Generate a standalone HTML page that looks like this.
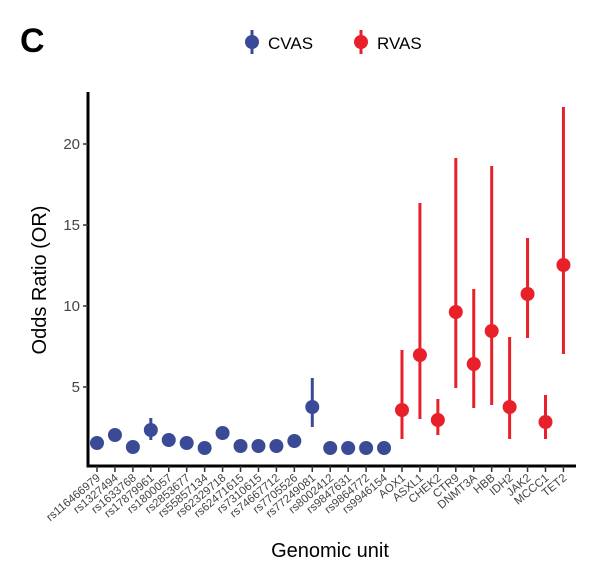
<!DOCTYPE html>
<html><head><style>body{margin:0;background:#fff}</style></head><body>
<svg width="600" height="577" xmlns="http://www.w3.org/2000/svg" font-family="Liberation Sans, sans-serif">
<text x="20" y="52" font-size="34" font-weight="bold">C</text>
<line x1="252" y1="30" x2="252" y2="54" stroke="#3b4a96" stroke-width="3"/>
<circle cx="252" cy="42" r="7" fill="#3b4a96"/>
<text x="268" y="49" font-size="17">CVAS</text>
<line x1="361" y1="30" x2="361" y2="54" stroke="#e8202a" stroke-width="3"/>
<circle cx="361" cy="42" r="7" fill="#e8202a"/>
<text x="377" y="49" font-size="17">RVAS</text>
<line x1="88" y1="92" x2="88" y2="467.5" stroke="#000" stroke-width="3"/>
<line x1="86.5" y1="466" x2="576" y2="466" stroke="#000" stroke-width="3"/>
<g stroke="#333" stroke-width="1.5">
<line x1="83" y1="144" x2="88" y2="144"/><line x1="83" y1="225" x2="88" y2="225"/><line x1="83" y1="306" x2="88" y2="306"/><line x1="83" y1="387" x2="88" y2="387"/>
</g>
<g font-size="15" fill="#444" text-anchor="end">
<text x="80" y="149">20</text><text x="80" y="230">15</text><text x="80" y="311">10</text><text x="80" y="392">5</text>
</g>
<text transform="translate(46,280) rotate(-90)" font-size="20" text-anchor="middle">Odds Ratio (OR)</text>
<text x="330" y="557" font-size="20" text-anchor="middle">Genomic unit</text>
<g id="ticks" stroke="#333" stroke-width="1.5"></g>
<g id="labs" font-size="11.5" fill="#444" text-anchor="end"></g>
<g id="pts"></g>
<script>
var names=["rs116466979","rs1327494","rs1633768","rs17879961","rs1800057","rs2853677","rs55857134","rs62329718","rs62471615","rs7310615","rs74667712","rs7705526","rs77249081","rs8002412","rs9847631","rs9864772","rs9946154","AOX1","ASXL1","CHEK2","CTR9","DNMT3A","HBB","IDH2","JAK2","MCCC1","TET2"];
var c=[443,435,447,430,440,443,448,433,446,446,446,441,407,448,448,448,448,410,355,420,312,364,331,407,294,422,265];
var e={3:[418,440],12:[378,427],17:[350,439],18:[203,419],19:[399,435],20:[158,388],21:[289,408],22:[166,405],23:[337,439],24:[238,338],25:[395,439],26:[107,354]};
var ns="http://www.w3.org/2000/svg",T=document.getElementById("ticks"),L=document.getElementById("labs"),P=document.getElementById("pts");
function el(t,a,p){var n=document.createElementNS(ns,t);for(var k in a)n.setAttribute(k,a[k]);p.appendChild(n);return n;}
for(var i=0;i<27;i++){var x=97+17.94*i,col=i<17?"#3b4a96":"#e8202a";
el("line",{x1:x,y1:466,x2:x,y2:472},T);
var t=el("text",{transform:"translate("+(x+4)+",479) rotate(-40)"},L);t.textContent=names[i];
if(e[i])el("line",{x1:x,y1:e[i][0],x2:x,y2:e[i][1],stroke:col,"stroke-width":3},P);
el("circle",{cx:x,cy:c[i],r:7,fill:col},P);}
</script>
</svg>
</body></html>
